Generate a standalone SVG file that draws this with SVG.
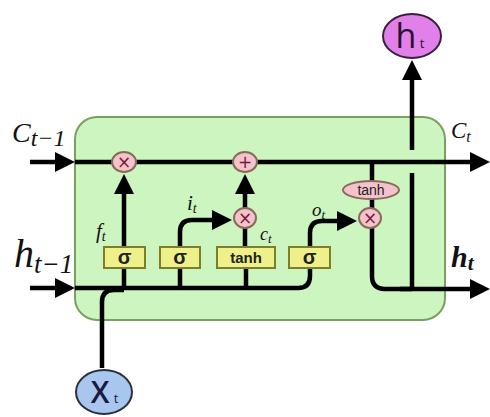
<svg xmlns="http://www.w3.org/2000/svg" width="490" height="417" viewBox="0 0 490 417">
<style>
.ln{fill:none;stroke:#000;stroke-width:4.5;stroke-linejoin:round}
.arr{marker-end:url(#ah)}
.gate{fill:#eef08a;stroke:#7d7d2a;stroke-width:2}
.op{fill:#f3c2cc;stroke:#8a6a5a;stroke-width:2}
.gt{font-family:"Liberation Sans",Arial,sans-serif;fill:#222;text-anchor:middle}
.opt{font-family:"DejaVu Sans","Liberation Sans",sans-serif;fill:#7a1a3a;text-anchor:middle;font-size:17px}
.m{font-family:"Liberation Serif","Times New Roman",serif;font-style:italic;fill:#111}
</style>
<defs>
<marker id="ah" viewBox="0 0 20 20" refX="6" refY="10" markerWidth="20" markerHeight="20" markerUnits="userSpaceOnUse" orient="auto">
<path d="M0,0 L20,10 L0,20 z" fill="#000"/>
</marker>
</defs>
<rect x="0" y="0" width="490" height="417" fill="#fff"/>
<g id="cell">
<rect x="75" y="117" width="370" height="203" rx="22" fill="#ccf5c0" stroke="#7aa060" stroke-width="2"/>
</g>
<g id="connectors">
<line class="ln arr" x1="30" y1="162" x2="61" y2="162"/>
<line class="ln arr" x1="30" y1="288" x2="61" y2="288"/>
<line class="ln arr" x1="75" y1="162" x2="476" y2="162"/>
<path class="ln" d="M75,288 H298 Q310,288 310,276 V268"/>
<path class="ln" d="M102,368 V302 Q102,290 114,290 H124"/>
<line class="ln" x1="124" y1="288" x2="124" y2="268"/>
<line class="ln arr" x1="124" y1="247" x2="124" y2="188"/>
<line class="ln" x1="180" y1="288" x2="180" y2="268"/>
<path class="ln arr" d="M180,247 V232 Q180,220 192,220 H218"/>
<line class="ln" x1="246" y1="288" x2="246" y2="268"/>
<line class="ln" x1="245" y1="247" x2="245" y2="228"/>
<line class="ln arr" x1="245" y1="208" x2="245" y2="188"/>
<path class="ln arr" d="M310,247 V233 Q310,221 322,221 H343"/>
<path class="ln" d="M372,162 V276 Q372,289 385,289 H412"/>
<line class="ln arr" x1="400" y1="289" x2="476" y2="289"/>
<line class="ln" x1="412" y1="289" x2="412" y2="173"/>
<line class="ln arr" x1="412" y1="150" x2="412" y2="74"/>
</g>
<g id="sigma_f"><rect class="gate" x="104" y="247" width="41" height="21"/><text class="gt" x="124.5" y="264" font-size="20" font-weight="bold">σ</text></g>
<g id="sigma_i"><rect class="gate" x="160" y="247" width="40" height="21"/><text class="gt" x="180" y="264" font-size="20" font-weight="bold">σ</text></g>
<g id="tanh_c"><rect class="gate" x="217" y="247" width="58" height="21"/><text class="gt" x="246" y="263" font-size="15" font-weight="bold">tanh</text></g>
<g id="sigma_o"><rect class="gate" x="289" y="247" width="41" height="21"/><text class="gt" x="309.5" y="264" font-size="20" font-weight="bold">σ</text></g>
<g id="mul_f"><ellipse class="op" cx="124" cy="162" rx="12" ry="10"/><text class="opt" x="124" y="168">×</text></g>
<g id="add_c"><ellipse class="op" cx="245" cy="162" rx="12" ry="10"/><text class="opt" x="245" y="168">+</text></g>
<g id="mul_i"><ellipse class="op" cx="245" cy="218" rx="11" ry="10"/><text class="opt" x="245" y="224">×</text></g>
<g id="tanh_h"><ellipse class="op" cx="371" cy="190" rx="28" ry="9"/><text class="gt" x="371" y="195" font-size="14">tanh</text></g>
<g id="mul_o"><ellipse class="op" cx="370" cy="218" rx="11" ry="10"/><text class="opt" x="370" y="224">×</text></g>
<g id="h_out"><ellipse cx="412" cy="36" rx="29" ry="22" fill="#e080e8" stroke="#3a2040" stroke-width="2"/><text x="406" y="48" font-family="'Open Sans','Liberation Sans',sans-serif" font-size="34" fill="#2a1030" text-anchor="middle">h</text><text x="422" y="48" font-family="'Open Sans','Liberation Sans',sans-serif" font-size="13" fill="#2a1030" text-anchor="middle">t</text></g>
<g id="x_in"><ellipse cx="104" cy="392" rx="28" ry="22" fill="#a9c6ee" stroke="#2a3040" stroke-width="2"/><text x="100" y="403" font-family="'Open Sans','Liberation Sans',sans-serif" font-size="30" font-weight="600" fill="#1a1a40" text-anchor="middle">X</text><text x="116" y="403" font-family="'Open Sans','Liberation Sans',sans-serif" font-size="13" fill="#1a1a40" text-anchor="middle">t</text></g>
<g id="labels">
<text class="m" x="12" y="142" font-size="28">C<tspan font-size="24" dy="4">t−1</tspan></text>
<text class="m" x="14" y="267" font-size="40">h<tspan font-size="27" dy="6">t−1</tspan></text>
<text class="m" x="451" y="138" font-size="23">C<tspan font-size="16" dy="4">t</tspan></text>
<text class="m" x="451" y="267" font-size="30" font-weight="bold">h<tspan font-size="21" dy="3">t</tspan></text>
<text class="m" x="96" y="238" font-size="21">f<tspan font-size="14" dy="3">t</tspan></text>
<text class="m" x="187" y="210" font-size="21">i<tspan font-size="14" dy="3">t</tspan></text>
<text class="m" x="260" y="240" font-size="18">c<tspan font-size="13" dy="3">t</tspan></text>
<text class="m" x="312" y="216" font-size="19">o<tspan font-size="13" dy="3">t</tspan></text>
</g>
</svg>
